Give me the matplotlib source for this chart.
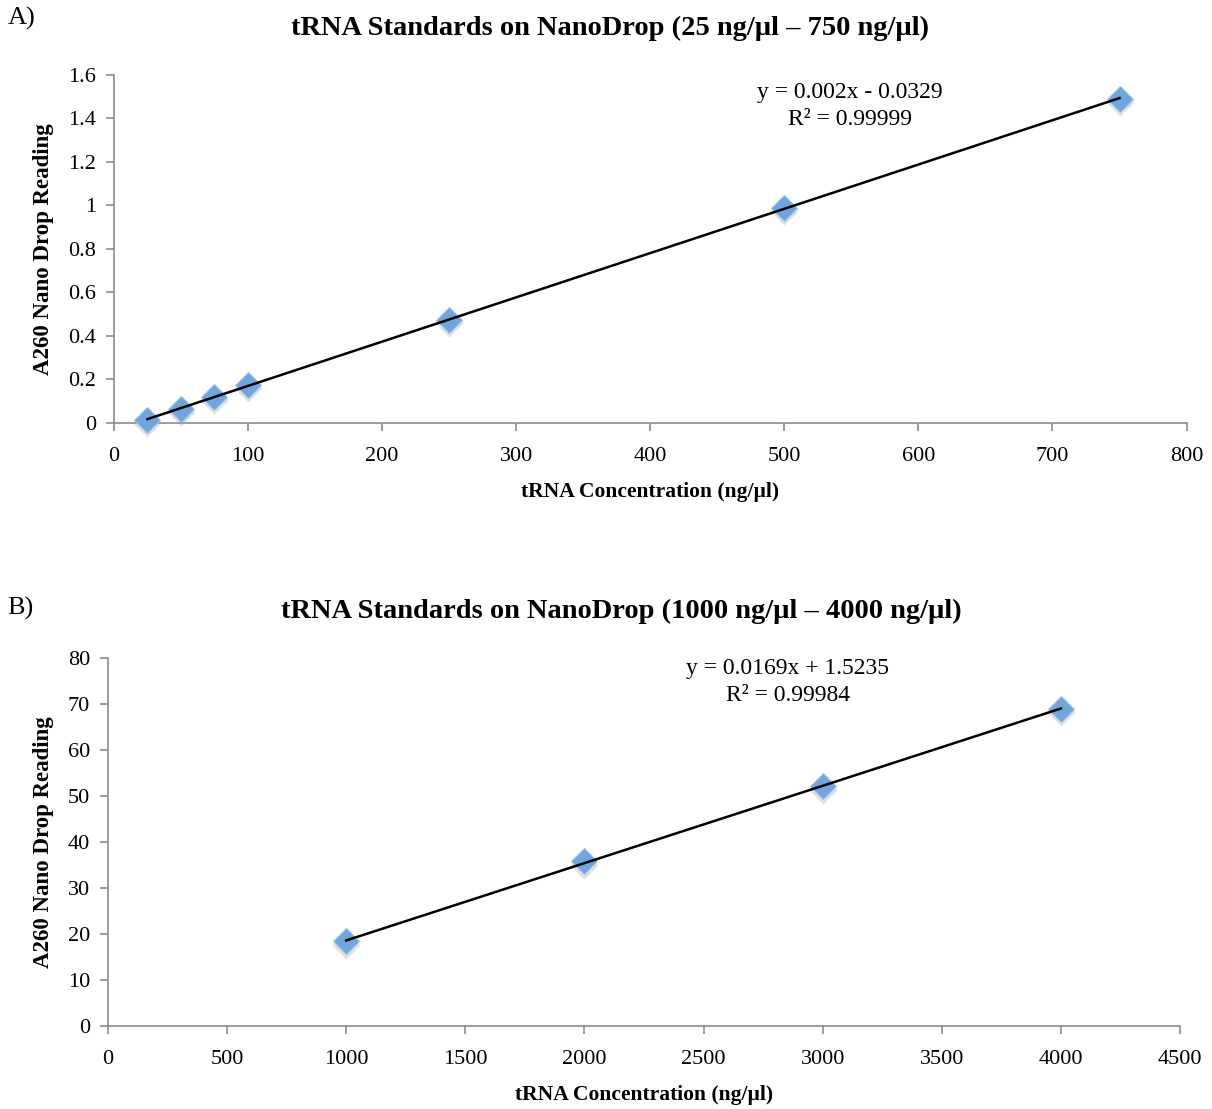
import matplotlib.pyplot as plt
import numpy as np

plt.rcParams['font.family'] = ['Liberation Serif', 'DejaVu Serif']

# datos
conc_a = [25, 50, 75, 100, 250, 500, 750]
a260_a = [0.015, 0.065, 0.12, 0.175, 0.475, 0.99, 1.49]
conc_b = [1000, 2000, 3000, 4000]
a260_b = [18.4, 35.8, 52.1, 69.0]

eq_a = 'y = 0.002x - 0.0329\nR² = 0.99999'
eq_b = 'y = 0.0169x + 1.5235\nR² = 0.99984'

azul = '#6fa6de'
gris = '#8c8c8c'


def panel(ax, x, y, eq, eq_pos, xlim, ylim, xticks, yticks, yfmt):
    x = np.array(x)
    y = np.array(y)
    # sombra de los marcadores
    ax.plot(x, y - ylim[1] * 0.009, 'D', ms=14, color='#a8a8a8',
            alpha=0.35, mec='none', zorder=2, clip_on=False)
    ax.plot(x, y, 'D', ms=13, color=azul, mec='#9cc4ec', mew=0.8, zorder=3, clip_on=False)
    # recta de ajuste
    m, b = np.polyfit(x, y, 1)
    xs = np.array([x.min(), x.max()])
    ax.plot(xs, m * xs + b, color='black', lw=1.8, zorder=4)
    ax.text(eq_pos[0], eq_pos[1], eq, transform=ax.transAxes, ha='center', va='top',
            fontsize=17, linespacing=1.4)

    ax.set_xlim(*xlim)
    ax.set_ylim(*ylim)
    ax.set_xticks(xticks)
    ax.set_yticks(yticks)
    ax.set_yticklabels([yfmt(v) for v in yticks])
    for s in ['top', 'right']:
        ax.spines[s].set_visible(False)
    for s in ['left', 'bottom']:
        ax.spines[s].set_color(gris)
        ax.spines[s].set_linewidth(1.2)
    ax.tick_params(direction='out', length=6, width=1.2, color=gris, labelsize=16, pad=7)
    ax.tick_params(axis='x', pad=11)
    ax.set_xlabel('tRNA Concentration (ng/µl)', fontsize=15.5, fontweight='bold', labelpad=12)
    ax.set_ylabel('A260 Nano Drop Reading', fontsize=16.5, fontweight='bold', labelpad=10)


fig = plt.figure(figsize=(12.12, 11.09), dpi=100)

ax1 = fig.add_axes([0.094, 0.6186, 0.885, 0.3138])
panel(ax1, conc_a, a260_a, eq_a, (0.686, 0.98), (0, 800), (0, 1.6),
      np.arange(0, 801, 100), np.arange(0, 1.61, 0.2),
      lambda v: f'{v:g}' if v not in (0, 1) else str(int(v)))

ax2 = fig.add_axes([0.0891, 0.0748, 0.8845, 0.3318])
panel(ax2, conc_b, a260_b, eq_b, (0.634, 1.0), (0, 4500), (0, 80),
      np.arange(0, 4501, 500), np.arange(0, 81, 10), lambda v: str(int(v)))

fig.text(0.006, 0.983, 'A)', fontsize=19, va='center')
fig.text(0.503, 0.974, 'tRNA Standards on NanoDrop (25 ng/µl – 750 ng/µl)',
         fontsize=20.5, fontweight='bold', ha='center', va='center')
fig.text(0.006, 0.451, 'B)', fontsize=19, va='center')
fig.text(0.513, 0.449, 'tRNA Standards on NanoDrop (1000 ng/µl – 4000 ng/µl)',
         fontsize=20.5, fontweight='bold', ha='center', va='center')

fig.savefig('out.png', dpi=100)
